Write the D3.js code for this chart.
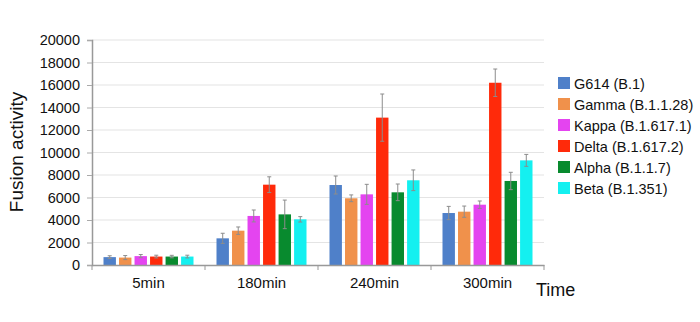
<!DOCTYPE html>
<html><head><meta charset="utf-8">
<script src="https://cdn.jsdelivr.net/npm/d3@7"></script>
<style>body{margin:0;background:#fff}svg{display:block}text{font-family:"Liberation Sans",Arial,sans-serif}</style>
</head><body><svg id="c" width="700" height="322"></svg>
<script>
const categories = ["5min","180min","240min","300min"];
const series = ["G614 (B.1)","Gamma (B.1.1.28)","Kappa (B.1.617.1)","Delta (B.1.617.2)","Alpha (B.1.1.7)","Beta (B.1.351)"];
const colors = ["#4f80c9","#f0914b","#e444f0","#ff2a0a","#088a2e","#14f0f0"];
const values = [
  [700, 2370, 7110, 4620],
  [660, 3050, 5930, 4740],
  [790, 4360, 6280, 5360],
  [750, 7140, 13100, 16200],
  [750, 4500, 6460, 7470],
  [750, 4060, 7530, 9300]
];
const errors = [
  [120, 450, 800, 590],
  [180, 330, 300, 500],
  [140, 530, 890, 330],
  [120, 700, 2100, 1220],
  [110, 1270, 740, 770],
  [120, 240, 920, 530]
];
const yTicks = [0,2000,4000,6000,8000,10000,12000,14000,16000,18000,20000];

const svg = d3.select("#c");
const L = 92, R = 544, T = 40, B = 265;
const y = d3.scaleLinear().domain([0,20000]).range([B,T]);
const x0 = d3.scaleBand().domain(categories).range([L,R]);
const x1 = d3.scaleBand().domain(series).range([-45,45]).paddingInner(0.2);

// gridlines
svg.append("g").selectAll("line").data(yTicks.slice(1)).join("line")
  .attr("x1",L).attr("x2",R).attr("y1",d=>y(d)).attr("y2",d=>y(d))
  .attr("stroke","#e4e4e4").attr("stroke-width",1.2);

// y axis
const ya = svg.append("g").attr("transform",`translate(${L},0)`)
  .call(d3.axisLeft(y).tickValues(yTicks).tickSize(5).tickPadding(7).tickFormat(d3.format("d")));
ya.select(".domain").attr("stroke","#999").attr("stroke-width",1.5);
ya.selectAll(".tick line").attr("stroke","#aaa");
ya.selectAll("text").attr("font-size","14.5px").attr("fill","#111");

// bars
series.forEach((s,i)=>{
  const g = svg.append("g");
  g.selectAll("rect").data(categories).join("rect")
    .attr("x",c=>x0(c)+x0.bandwidth()/2+x1(s))
    .attr("width",x1.bandwidth())
    .attr("y",(c,j)=>y(values[i][j]))
    .attr("height",(c,j)=>B-y(values[i][j]))
    .attr("fill",colors[i]);
});
// error bars
series.forEach((s,i)=>{
  const g = svg.append("g").attr("stroke","#8c8c8c").attr("stroke-width",1);
  categories.forEach((c,j)=>{
    const cx = x0(c)+x0.bandwidth()/2+x1(s)+x1.bandwidth()/2;
    const hi = y(values[i][j]+errors[i][j]), lo = y(values[i][j]-errors[i][j]);
    g.append("line").attr("x1",cx).attr("x2",cx).attr("y1",hi).attr("y2",lo);
    g.append("line").attr("x1",cx-2).attr("x2",cx+2).attr("y1",hi).attr("y2",hi);
    g.append("line").attr("x1",cx-2).attr("x2",cx+2).attr("y1",lo).attr("y2",lo);
  });
});

// x axis
const xa = svg.append("g").attr("transform",`translate(0,${B})`)
  .call(d3.axisBottom(x0).tickSize(0).tickPadding(12));
xa.select(".domain").attr("stroke","#999").attr("stroke-width",1.5);
xa.selectAll("text").attr("font-size","15px").attr("fill","#111");
svg.append("g").selectAll("line").data(d3.range(5)).join("line")
  .attr("x1",i=>L+i*x0.step()).attr("x2",i=>L+i*x0.step())
  .attr("y1",B).attr("y2",B+5).attr("stroke","#999");

// axis titles
svg.append("text").attr("transform","translate(23,152) rotate(-90)")
  .attr("text-anchor","middle").attr("font-size","19px").attr("fill","#111").text("Fusion activity");
svg.append("text").attr("x",536).attr("y",296).attr("font-size","18px").attr("fill","#111").text("Time");

// legend
const lg = svg.append("g").attr("transform","translate(558,83)");
series.forEach((s,i)=>{
  const r = lg.append("g").attr("transform",`translate(0,${i*21})`);
  r.append("rect").attr("x",0).attr("y",-6).attr("width",12).attr("height",12).attr("fill",colors[i]);
  r.append("text").attr("x",16).attr("y",5.5).attr("font-size","14.5px").attr("fill","#111").text(s);
});
</script></body></html>
